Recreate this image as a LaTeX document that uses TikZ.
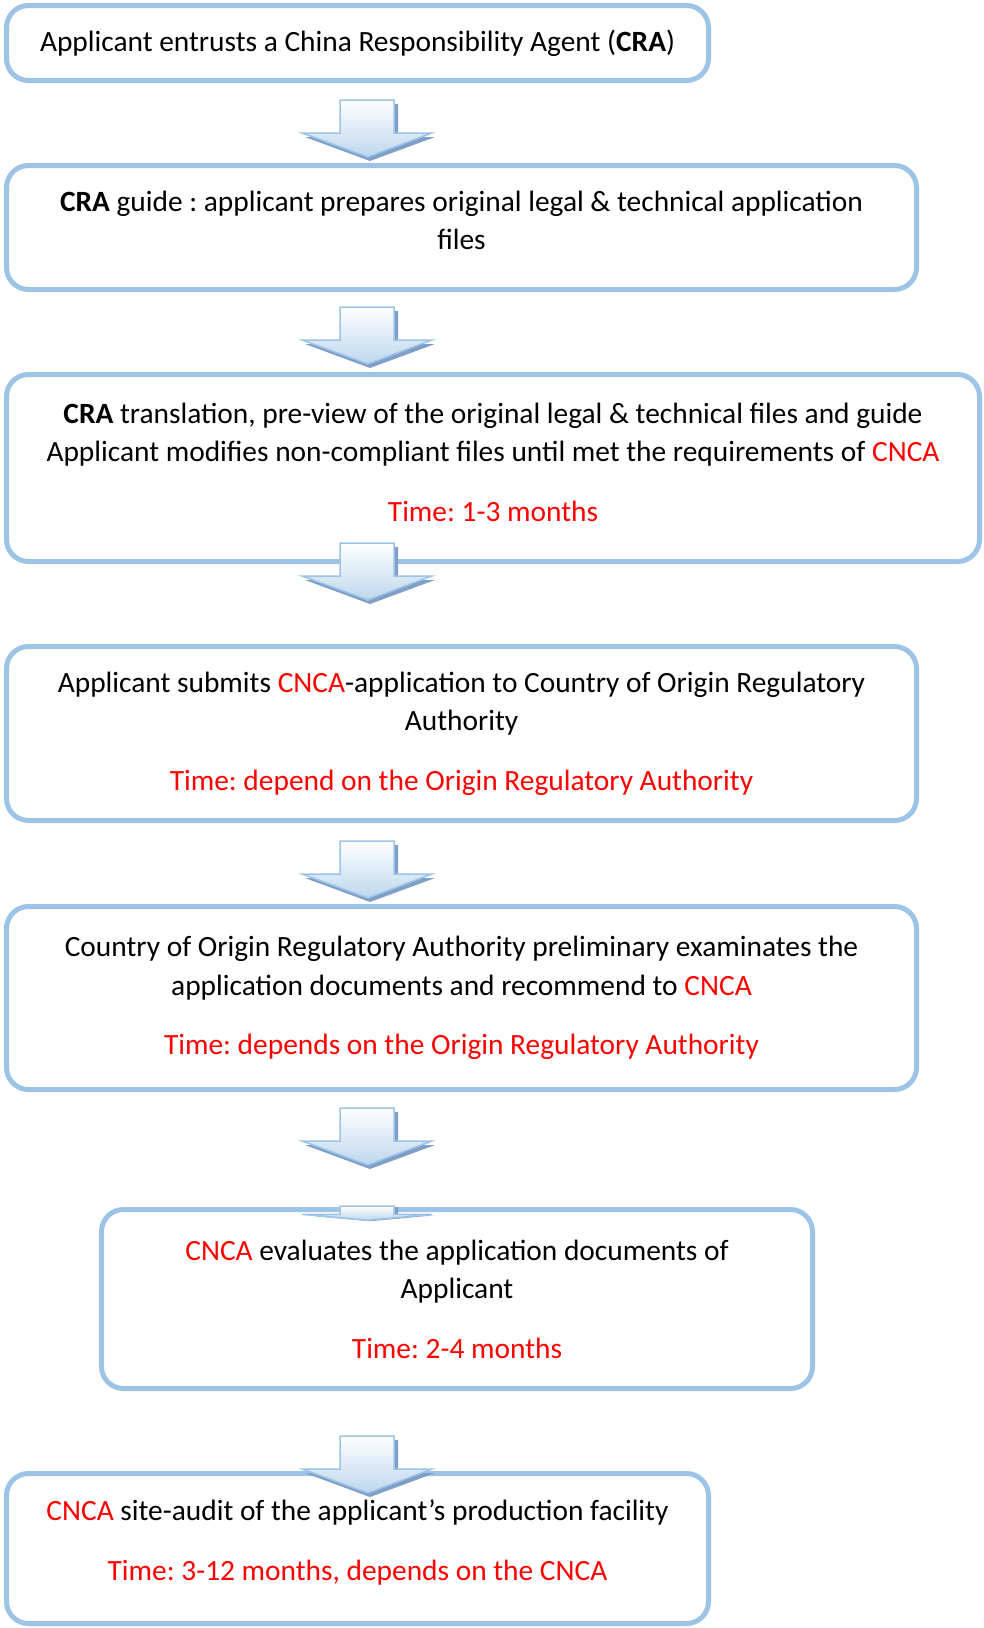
\documentclass[tikz,border=0pt]{standalone}
\usepackage{fontspec}
\setmainfont{Carlito}
\usepackage{tikz}
\usetikzlibrary{positioning}
\definecolor{boxblue}{HTML}{9DC3E6}
\definecolor{arrowdark}{HTML}{7F9FC9}
\definecolor{arrowlight}{HTML}{BDD7EE}
\newcommand{\rd}[1]{\textcolor{red}{#1}}
\newcommand{\lowpad}[1]{\rule[-#1]{0pt}{#1}}
\frenchspacing

\begin{document}
\begin{tikzpicture}[x=1pt,y=-1pt,
box/.style={draw=boxblue,line width=5pt,rounded corners=22pt,align=center,inner sep=0pt,font=\fontsize{29.4}{38.4}\selectfont},
downarrow/.pic={
\fill[arrowdark] (-23,4) -- (31,4) -- (31,37) -- (68,37) -- (3,61) -- (-62,37) -- (-23,37) -- cycle;
\draw[boxblue,line width=1.5pt,top color=white,bottom color=arrowlight] (-27,0) -- (27,0) -- (27,33) -- (65,33) -- (1,57) -- (-65,33) -- (-27,33) -- cycle;}]
\useasboundingbox (0,0) rectangle (984,1628);
\node[box,minimum width=702,minimum height=75] (cra) at (357.5,43) {Applicant entrusts a China Responsibility Agent (\textbf{CRA})};
\node[box,minimum width=910,minimum height=124] (guide) at (461.5,227.5) {\textbf{CRA} guide : applicant prepares original legal \& technical application\\files\lowpad{14pt}};
\node[box,minimum width=973,minimum height=187] (trans) at (493,468) {\textbf{CRA} translation, pre-view of the original legal \& technical files and guide\\Applicant modifies non-compliant files until met the requirements of \rd{CNCA}\\[21pt]\rd{Time: 1-3 months}\lowpad{12pt}};
\node[box,minimum width=910,minimum height=174] (submit) at (461.5,733.5) {Applicant submits \rd{CNCA}-application to Country of Origin Regulatory\\Authority\\[21pt]\rd{Time: depend on the Origin Regulatory Authority}};
\node[box,minimum width=910,minimum height=183] (exam) at (461.5,998) {Country of Origin Regulatory Authority preliminary examinates the\\application documents and recommend to \rd{CNCA}\\[21pt]\rd{Time: depends on the Origin Regulatory Authority}};
\node[box,minimum width=711,minimum height=179] (eval) at (457,1299) {\rd{CNCA} evaluates the application documents of\\Applicant\\[21pt]\rd{Time: 2-4 months}};
\node[box,minimum width=702,minimum height=150] (audit) at (357.5,1548.5) {\rd{CNCA} site-audit of the applicant's production facility\\[21pt]\rd{Time: 3-12 months, depends on the CNCA}\lowpad{17pt}};
% block arrows between the steps
\pic at (367,100) {downarrow};
\pic at (367,307) {downarrow};
\pic at (367,543) {downarrow};
\pic at (367,841) {downarrow};
\pic at (367,1108) {downarrow};
\pic[yscale=0.25] at (367,1206) {downarrow};
\pic at (367,1436) {downarrow};
\end{tikzpicture}
\end{document}
